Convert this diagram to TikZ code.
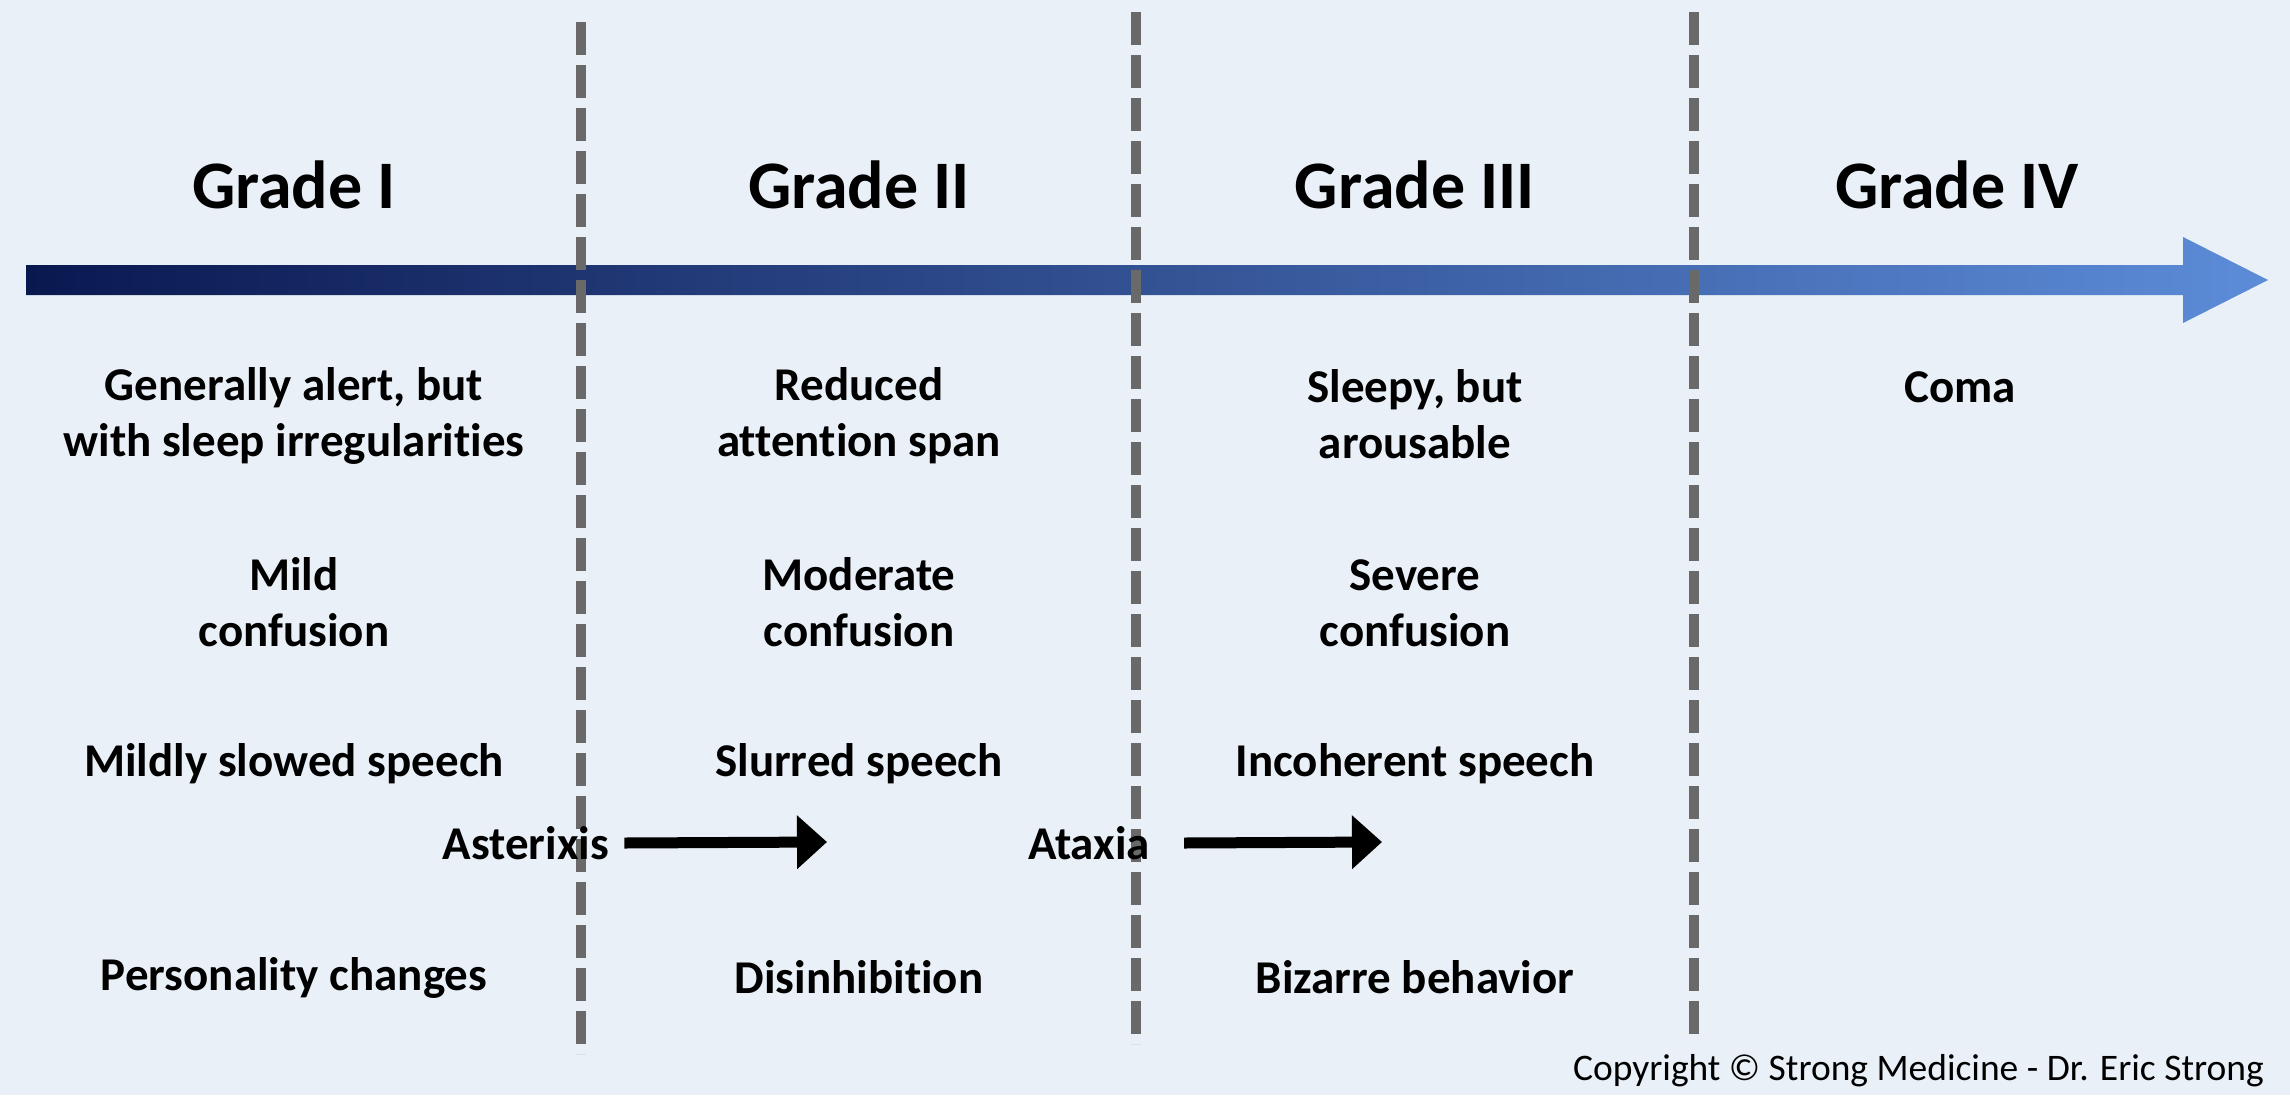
\documentclass[tikz,border=0pt]{standalone}
\usepackage{fontspec}
\setmainfont{Carlito}[Ligatures={NoCommon}]
\usetikzlibrary{arrows.meta}
\usetikzlibrary{calc}
\usetikzlibrary{positioning}

\definecolor{paper}{RGB}{233,240,247}
\definecolor{axisdark}{RGB}{10,24,80}
\definecolor{axismid}{RGB}{56,90,162}
\definecolor{axislight}{RGB}{92,140,216}
\definecolor{divider}{RGB}{105,105,105}

\begin{document}
\begin{tikzpicture}[x=1pt,y=-1pt,
		grade/.style={inner sep=0pt,font=\fontsize{68}{80}\selectfont\bfseries},
		sign/.style={inner sep=0pt,align=center,font=\fontsize{47}{56}\selectfont\bfseries},
		divide/.style={draw=divider,line width=10.7pt,dash pattern=on 32.7pt off 10.3pt},
		onset/.style={line width=11pt,-{Triangle[length=30pt,width=52pt]}}]
		\fill [paper] (0,0) rectangle (2290,1095);
		\useasboundingbox (0,0) rectangle (2290,1095);

		\coordinate (axis start) at (26,280);
		\coordinate (axis end) at (2268,280);
		\shade [left color=axisdark,middle color=axismid,right color=axislight]
			($(axis start)+(0,-15)$) -- ($(axis end)+(-85,-15)$) -- ($(axis end)+(-85,-43)$)
			-- (axis end) -- ($(axis end)+(-85,43)$) -- ($(axis end)+(-85,15)$)
			-- ($(axis start)+(0,15)$) -- cycle;

		\coordinate (div1 top) at (581,22);
		\coordinate (div1 bottom) at (581,1054);
		\coordinate (div2 top) at (1136,12);
		\coordinate (div2 bottom) at (1136,1044);
		\coordinate (div3 top) at (1694,12);
		\coordinate (div3 bottom) at (1694,1037);
		\draw [divide] (div1 top) -- (div1 bottom);
		\draw [divide] (div2 top) -- (div2 bottom);
		\draw [divide] (div3 top) -- (div3 bottom);

		\node [grade] (g1) at (294,185) {Grade I};
		\node [grade] (g2) at (859,185) {Grade II};
		\node [grade] (g3) at (1415,185) {Grade III};
		\node [grade] (g4) at (1957,185) {Grade IV};

		\node [sign] (alert) at (294,416) {Generally alert, but\\with sleep irregularities};
		\node [sign] (attention) at (859,416) {Reduced\\attention span};
		\node [sign] (sleepy) at (1415,414) {Sleepy, but\\arousable};
		\node [sign] (coma) at (1960,387) {Coma};

		\node [sign] (mild) at (294,602) {Mild\\confusion};
		\node [sign] (moderate) at (859,602) {Moderate\\confusion};
		\node [sign] (severe) at (1415,603) {Severe\\confusion};

		\node [sign] (slowed) at (294,764) {Mildly slowed speech};
		\node [sign] (slurred) at (859,764) {Slurred speech};
		\node [sign] (incoherent) at (1415,764) {Incoherent speech};

		\node [sign] (asterixis) at (526,843) {Asterixis};
		\node [sign] (ataxia) at (1089,843) {Ataxia};
		\coordinate (asterixis end) at (827,842);
		\coordinate (ataxia end) at (1382,842);
		\draw [onset] ([xshift=15pt]asterixis.east) -- (asterixis end);
		\draw [onset] ([xshift=34pt]ataxia.east) -- (ataxia end);

		\node [sign] (personality) at (294,978) {Personality changes};
		\node [sign] (disinhibition) at (859,977) {Disinhibition};
		\node [sign] (bizarre) at (1415,977) {Bizarre behavior};

		\node [anchor=east,inner sep=0pt,font=\fontsize{37.5}{45}\selectfont] (copyright) at (2264,1071) {Copyright \textcopyright{} Strong Medicine - Dr. Eric Strong};
	\end{tikzpicture}
\end{document}
